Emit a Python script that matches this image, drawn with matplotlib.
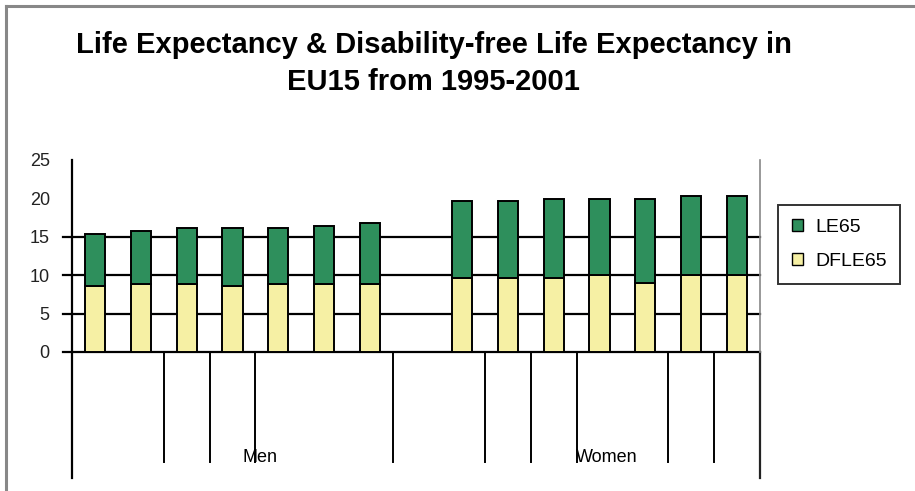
import matplotlib
matplotlib.use("Agg")
import matplotlib.pyplot as plt
from matplotlib.lines import Line2D
from matplotlib.patches import Patch
import matplotlib.transforms as mtransforms

plt.rcParams['font.family'] = ['Liberation Sans', 'DejaVu Sans']

# Data: 1995-2001 for men and women, one empty slot between groups
groups = ["Men", "Women"]
years = [1995, 1996, 1997, 1998, 1999, 2000, 2001]
le65_men = [15.3, 15.8, 16.1, 16.1, 16.1, 16.4, 16.8]
dfle65_men = [8.6, 8.9, 8.9, 8.6, 8.9, 8.9, 8.9]
le65_women = [19.6, 19.6, 19.9, 19.9, 19.9, 20.3, 20.3]
dfle65_women = [9.7, 9.7, 9.7, 10.0, 9.0, 10.0, 10.0]
y_ticks = [0, 5, 10, 15, 20, 25]
grid_levels = [0, 5, 10, 15]
# category-axis separators (slot boundaries, counted from the left edge)
separators = [2, 3, 4, 7, 9, 10, 11, 13, 14]

green = "#2E8F5C"
yellow = "#F6F0A4"

fig = plt.figure(figsize=(9.15, 4.91), dpi=100)
W, H = 915, 491
ax = fig.add_axes([72 / W, 1 - 352 / H, (760 - 72) / W, (352 - 160) / H])

x_men = list(range(len(years)))
x_women = [len(years) + 1 + i for i in range(len(years))]
xs = x_men + x_women
le = le65_men + le65_women
df = dfle65_men + dfle65_women

bw = 0.44
ax.bar(xs, df, width=bw, color=yellow, edgecolor="black", linewidth=1.4, zorder=3)
ax.bar(xs, [a - b for a, b in zip(le, df)], bottom=df, width=bw, color=green,
       edgecolor="black", linewidth=1.4, zorder=3)

ax.set_xlim(-0.5, 14.5)
ax.set_ylim(0, 25)

for s in ["top", "bottom"]:
    ax.spines[s].set_visible(False)
ax.spines["left"].set_color("black")
ax.spines["left"].set_linewidth(1.6)
ax.spines["right"].set_color("#888888")
ax.spines["right"].set_linewidth(1.2)

ax.set_xticks([])
ax.set_yticks(y_ticks)
ax.set_yticklabels([str(v) for v in y_ticks], fontsize=13, color="#222222")
ax.tick_params(axis="y", length=0, pad=16)

# horizontal rules with short outward ticks
ytrans = mtransforms.blended_transform_factory(ax.transAxes, ax.transData)
for g in grid_levels:
    ax.plot([-0.013, 1.0], [g, g], transform=ytrans, color="black",
            lw=1.6, clip_on=False, zorder=2)

# category axis below the plot
xtrans = mtransforms.blended_transform_factory(ax.transData, ax.transAxes)
for k in separators:
    ax.plot([k - 0.5, k - 0.5], [0, -0.573], transform=xtrans, color="black",
            lw=1.4, clip_on=False)
ax.plot([-0.5, -0.5], [0, -0.656], transform=xtrans, color="black",
        lw=1.6, clip_on=False)
ax.plot([14.5, 14.5], [0, -0.656], transform=xtrans, color="#222222",
        lw=1.6, clip_on=False)

ax.text(3.6, -0.552, groups[0], transform=xtrans, ha="center", va="center",
        fontsize=13)
ax.text(11.16, -0.552, groups[1], transform=xtrans, ha="center", va="center",
        fontsize=13)

# title
fig.text(0.474, 0.908, "Life Expectancy & Disability-free Life Expectancy in",
         ha="center", va="center", fontsize=21, fontweight="bold")
fig.text(0.474, 0.833, "EU15 from 1995-2001", ha="center", va="center",
         fontsize=21, fontweight="bold")

# legend
handles = [Patch(facecolor=green, edgecolor="black", label="LE65"),
           Patch(facecolor=yellow, edgecolor="black", label="DFLE65")]
leg = fig.legend(handles=handles, loc="upper left",
                 bbox_to_anchor=(778 / W, 1 - 205 / H), fontsize=14,
                 frameon=True, fancybox=False, edgecolor="black",
                 handlelength=0.6, handleheight=0.6, handletextpad=0.6,
                 labelspacing=0.9, borderpad=0.7, borderaxespad=0)
leg.get_frame().set_linewidth(1.4)

# outer frame edges
fig.add_artist(Line2D([6 / W, 6 / W], [0, 1 - 6 / H], color="#888888", lw=2.2))
fig.add_artist(Line2D([6 / W, 1], [1 - 6 / H, 1 - 6 / H], color="#888888", lw=2.2))

fig.savefig("out.png", dpi=100, facecolor="white")
